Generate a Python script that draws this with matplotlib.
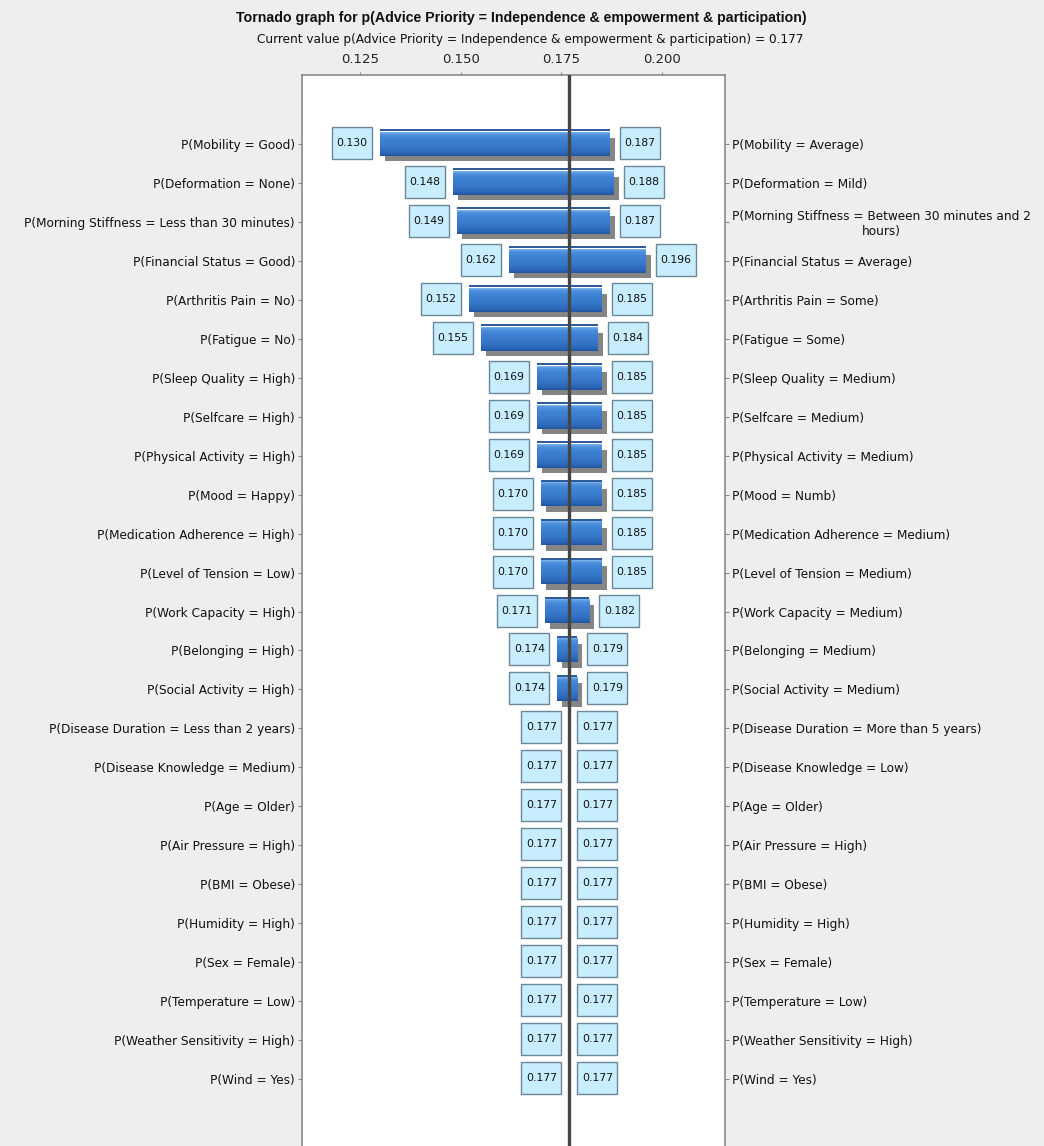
import numpy as np
import matplotlib
matplotlib.use("Agg")
import matplotlib.pyplot as plt
from matplotlib.patches import Rectangle
from matplotlib.transforms import Affine2D, ScaledTranslation
import matplotlib.patheffects as pe

# ---- data -------------------------------------------------------------
left_labels = [
    "P(Mobility = Good)", "P(Deformation = None)",
    "P(Morning Stiffness = Less than 30 minutes)", "P(Financial Status = Good)",
    "P(Arthritis Pain = No)", "P(Fatigue = No)", "P(Sleep Quality = High)",
    "P(Selfcare = High)", "P(Physical Activity = High)", "P(Mood = Happy)",
    "P(Medication Adherence = High)", "P(Level of Tension = Low)",
    "P(Work Capacity = High)", "P(Belonging = High)", "P(Social Activity = High)",
    "P(Disease Duration = Less than 2 years)", "P(Disease Knowledge = Medium)",
    "P(Age = Older)", "P(Air Pressure = High)", "P(BMI = Obese)",
    "P(Humidity = High)", "P(Sex = Female)", "P(Temperature = Low)",
    "P(Weather Sensitivity = High)", "P(Wind = Yes)",
]
right_labels = [
    "P(Mobility = Average)", "P(Deformation = Mild)",
    "P(Morning Stiffness = Between 30 minutes and 2\nhours)",
    "P(Financial Status = Average)", "P(Arthritis Pain = Some)",
    "P(Fatigue = Some)", "P(Sleep Quality = Medium)", "P(Selfcare = Medium)",
    "P(Physical Activity = Medium)", "P(Mood = Numb)",
    "P(Medication Adherence = Medium)", "P(Level of Tension = Medium)",
    "P(Work Capacity = Medium)", "P(Belonging = Medium)",
    "P(Social Activity = Medium)", "P(Disease Duration = More than 5 years)",
    "P(Disease Knowledge = Low)", "P(Age = Older)", "P(Air Pressure = High)",
    "P(BMI = Obese)", "P(Humidity = High)", "P(Sex = Female)",
    "P(Temperature = Low)", "P(Weather Sensitivity = High)", "P(Wind = Yes)",
]
low_values = [0.130, 0.148, 0.149, 0.162, 0.152, 0.155, 0.169, 0.169, 0.169,
              0.170, 0.170, 0.170, 0.171, 0.174, 0.174, 0.177, 0.177, 0.177,
              0.177, 0.177, 0.177, 0.177, 0.177, 0.177, 0.177]
high_values = [0.187, 0.188, 0.187, 0.196, 0.185, 0.184, 0.185, 0.185, 0.185,
               0.185, 0.185, 0.185, 0.182, 0.179, 0.179, 0.177, 0.177, 0.177,
               0.177, 0.177, 0.177, 0.177, 0.177, 0.177, 0.177]
current_value = 0.177
x_ticks = [0.125, 0.150, 0.175, 0.200]

target = "Advice Priority = Independence & empowerment & participation"

# ---- figure -------------------------------------------------------------
BG = "#eeeeee"
plt.rcParams["font.family"] = ["DejaVu Sans"]
fig = plt.figure(figsize=(10.44, 11.46), dpi=100, facecolor=BG)
W, H = 1044, 1146
ax = fig.add_axes([302 / W, 1 - 1148 / H, 423 / W, 1073 / H])
ax.set_facecolor("white")

n = len(left_labels)
rows = np.arange(n)
XLIM = (0.11057, 0.21567)
YLIM = (n - 1 + 1.77, -1.77)

# vertical gradient used to shade each bar (top -> bottom)
grad_pos = [0.0, 0.08, 0.25, 0.6, 0.88, 1.0]
grad_cols = np.array([
    [0.50, 0.72, 0.93], [0.33, 0.58, 0.87], [0.25, 0.52, 0.84],
    [0.22, 0.47, 0.79], [0.17, 0.40, 0.72], [0.13, 0.33, 0.62],
])
t = np.linspace(0, 1, 96)
grad = np.stack([np.interp(t, grad_pos, grad_cols[:, k]) for k in range(3)],
                axis=-1)[:, None, :]

shadow = [pe.SimplePatchShadow(offset=(3.6, -3.9), shadow_rgbFace="#858585",
                               alpha=1.0), pe.Normal()]

for i, (lo, hi) in enumerate(zip(low_values, high_values)):
    if hi - lo <= 0:
        continue
    bar = ax.barh(i + 0.005, hi - lo, left=lo, height=0.60,
                  color="#3a74c4", zorder=2)[0]
    bar.set_path_effects(shadow)
    ax.imshow(grad, extent=(lo, hi, i + 0.305, i - 0.295), aspect="auto",
              interpolation="bilinear", zorder=3)
    # thin rule just above each bar
    ax.barh(i - 0.352, hi - lo, left=lo, height=0.05, color="#2f5c98",
            zorder=3)

ax.set_xlim(*XLIM)
ax.set_ylim(*YLIM)

ax.axvline(current_value, color="#454545", lw=2.4, zorder=6)


def value_box(x, y, x0_px, text):
    tr = Affine2D().translate(x0_px, -15) + ScaledTranslation(x, y, ax.transData)
    ax.add_patch(Rectangle((0, 0), 40, 32, transform=tr, facecolor="#c8edfc",
                           edgecolor="#6c8898", lw=1.0, zorder=7))
    ax.annotate(text, xy=(x, y), xytext=(x0_px + 20, 1),
                textcoords="offset pixels", ha="center", va="center",
                fontsize=7.8, color="#111111", zorder=8)


for i, (lo, hi) in enumerate(zip(low_values, high_values)):
    has_bar = hi - lo > 0
    value_box(lo, i, -48, f"{lo:.3f}")
    value_box(hi, i, 10 if has_bar else 8, f"{hi:.3f}")

# axes frame and ticks
for s in ax.spines.values():
    s.set_color("#8a8a8a")
    s.set_linewidth(1.2)
ax.xaxis.tick_top()
ax.set_xticks(x_ticks)
ax.set_xticklabels([f"{v:.3f}" for v in x_ticks], fontsize=9.5)
ax.tick_params(axis="x", length=2.5, pad=4, color="#8a8a8a", labelcolor="#222222")

ax.set_yticks(rows)
ax.set_yticklabels(left_labels, fontsize=8.7)
ax.tick_params(axis="y", length=3, pad=2, color="#8a8a8a", labelcolor="#111111")

ax2 = ax.twinx()
ax2.set_ylim(*YLIM)
ax2.set_yticks(rows)
ax2.set_yticklabels(right_labels, fontsize=8.7)
ax2.tick_params(axis="y", length=3, pad=2, color="#8a8a8a", labelcolor="#111111")
for lbl in ax2.get_yticklabels():
    lbl.set_multialignment("center")
for s in ax2.spines.values():
    s.set_visible(False)

fig.text(521 / W, 1 - 18 / H, f"Tornado graph for p({target})",
         ha="center", va="center", fontsize=10.2, fontweight="bold",
         family="Liberation Sans", color="#111111")
fig.text(530 / W, 1 - 39 / H,
         f"Current value p({target}) = {current_value:.3f}",
         ha="center", va="center", fontsize=8.7, color="#111111")

fig.savefig("out.png", dpi=100, facecolor=BG)
